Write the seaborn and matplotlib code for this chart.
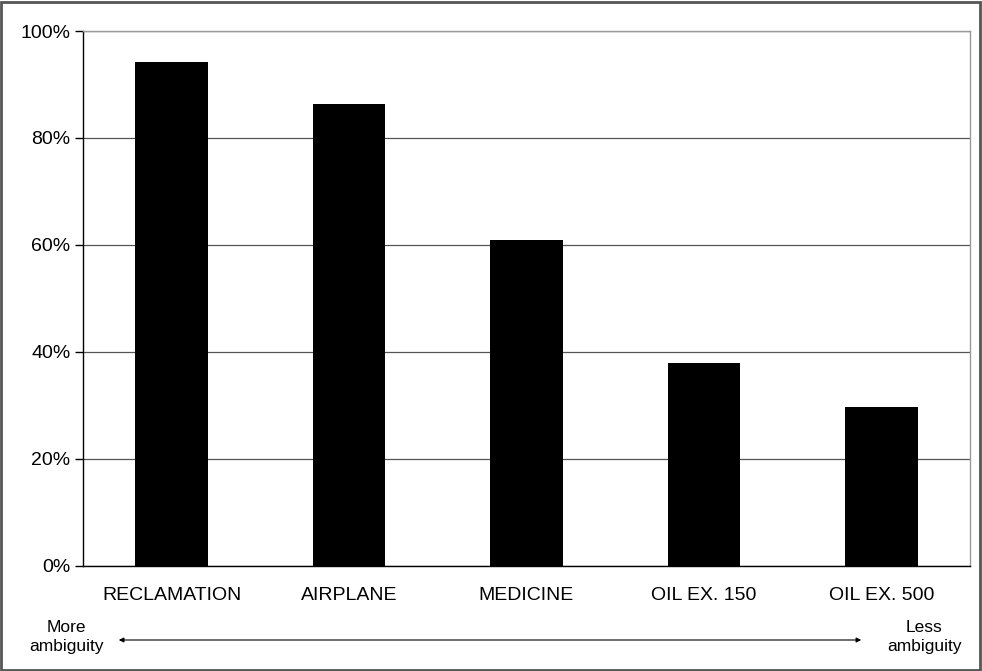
import numpy as np
import pandas as pd
import matplotlib
matplotlib.use("Agg")
import matplotlib.pyplot as plt
import seaborn as sns
from matplotlib.patches import Rectangle, FancyArrowPatch

# 数据
categories = ['RECLAMATION', 'AIRPLANE', 'MEDICINE', 'OIL EX. 150', 'OIL EX. 500']
values = [94.2, 86.3, 61.0, 38.0, 29.7]
yticks = [0, 20, 40, 60, 80, 100]

sns.set_style('white')
plt.rcParams['font.family'] = ['Liberation Sans', 'DejaVu Sans']
plt.rcParams['text.color'] = 'black'
plt.rcParams['xtick.color'] = 'black'
plt.rcParams['ytick.color'] = 'black'

df = pd.DataFrame({'cat': categories, 'val': values})

fig = plt.figure(figsize=(9.82, 6.71), dpi=100)
ax = fig.add_axes([0.0845, 0.1565, 0.9033, 0.7973])

sns.barplot(data=df, x='cat', y='val', color='black', width=0.41,
            saturation=1, edgecolor='black', linewidth=0, ax=ax, zorder=3)

ax.set_ylim(0, 100)
ax.set_xlim(-0.5, len(categories) - 0.5)
ax.set_yticks(yticks)
ax.set_yticklabels([f'{v}%' for v in yticks], fontsize=14)
ax.yaxis.grid(True, color='#555555', linewidth=0.9, zorder=0)
ax.set_axisbelow(True)
ax.set_xlabel('')
ax.set_ylabel('')

ax.set_xticks(range(len(categories)))
ax.set_xticklabels(categories, fontsize=14)
ax.set_xticks(np.arange(-0.5, len(categories), 1), minor=True)
ax.tick_params(axis='x', which='major', length=0, pad=15)
ax.tick_params(axis='x', which='minor', length=6, width=1, color='black', direction='out')
ax.tick_params(axis='y', length=6, width=1, color='black', direction='out', left=True, pad=3)

for s in ['left', 'bottom']:
    ax.spines[s].set_color('black')
    ax.spines[s].set_linewidth(1)
for s in ['top', 'right']:
    ax.spines[s].set_color('#999999')
    ax.spines[s].set_linewidth(1)

# 箭头和标注
ay = 1 - 640 / 671
arrow = FancyArrowPatch((116 / 982, ay), (864 / 982, ay),
                        transform=fig.transFigure, arrowstyle='<|-|>',
                        mutation_scale=7, color='black', linewidth=0.8)
fig.patches.append(arrow)
fig.text(66 / 982, 1 - 637 / 671, 'More\nambiguity', ha='center', va='center',
         fontsize=12.5, linespacing=1.3)
fig.text(924 / 982, 1 - 637 / 671, 'Less\nambiguity', ha='center', va='center',
         fontsize=12.5, linespacing=1.3)

# 外框
fig.patches.append(Rectangle((0.001, 0.0015), 0.997, 0.996, transform=fig.transFigure,
                             fill=False, edgecolor='#555555', linewidth=2))

fig.savefig('out.png', dpi=100)
